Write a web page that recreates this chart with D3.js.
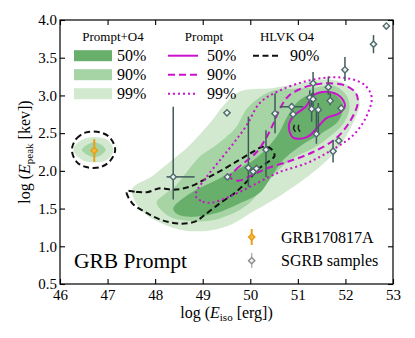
<!DOCTYPE html>
<html>
<head>
<meta charset="utf-8">
<script src="https://cdn.jsdelivr.net/npm/d3@7"></script>
<style>
    body { margin: 0; background: #fff; }
    svg { font-family: "Liberation Serif", "DejaVu Serif", serif; }
    .axis text { font-size: 15px; fill: #000; font-family: "Liberation Serif", serif; }
    .axis line { stroke: #000; stroke-width: 1.1px; }
    .axis .domain { display: none; }
    .legend-header { font-size: 13px; }
    .legend-label { font-size: 16px; }
</style>
</head>
<body>
<svg id="chart"></svg>
<script>
// Axis ticks
const xTicks = [46, 47, 48, 49, 50, 51, 52, 53];
const yTicks = [0.5, 1.0, 1.5, 2.0, 2.5, 3.0, 3.5, 4.0];

// Prompt+O4 credible regions, [log Eiso, log Epeak]
const promptO4Level99 = [[47.52, 1.76], [47.62, 1.55], [47.85, 1.4], [48.15, 1.3], [48.6, 1.21], [49.15, 1.21], [49.6, 1.29],
    [50.06, 1.46], [50.7, 1.7], [51.4, 2.02], [51.85, 2.3], [52.15, 2.62], [52.3, 2.88], [52.22, 3.04], [51.9, 3.18],
    [51.5, 3.21], [51.04, 3.16], [50.48, 3.1], [49.8, 3.06], [49.6, 2.97], [49.4, 2.84], [49.2, 2.67], [48.95, 2.49],
    [48.66, 2.3], [48.31, 2.12], [47.96, 1.94]];
const promptO4Level90 = [[48.03, 1.58], [48.2, 1.69], [48.4, 1.78], [48.66, 1.98], [48.94, 2.19], [49.3, 2.35], [49.68, 2.56],
    [49.96, 2.85], [50.45, 3.06], [50.9, 3.09], [51.39, 3.11], [51.74, 3.13], [52.0, 3.02], [52.09, 2.85],
    [51.95, 2.62], [51.6, 2.42], [51.32, 2.3], [50.83, 2.14], [50.4, 1.88], [49.92, 1.54], [49.36, 1.37],
    [48.87, 1.33], [48.31, 1.39]];
const promptO4Level50 = [[48.38, 1.5], [48.73, 1.7], [49.29, 1.88], [49.71, 2.01], [50.06, 2.14], [50.35, 2.3], [50.6, 2.5],
    [50.78, 2.72], [51.02, 2.93], [51.35, 3.03], [51.75, 3.02], [51.95, 2.88], [51.85, 2.66], [51.5, 2.5], [51.1, 2.35],
    [50.7, 2.15], [50.4, 1.88], [50.2, 1.71], [49.78, 1.57], [49.29, 1.44], [48.73, 1.39], [48.48, 1.42]];
const promptO4Speck = [[49.55, 2.45]];

// GRB170817A-like island
const islandLevel99 = [[46.28, 2.28], [46.45, 2.41], [46.72, 2.45], [47.0, 2.41], [47.12, 2.28], [47.0, 2.15], [46.72, 2.11], [46.45, 2.15]];
const islandLevel90 = [[46.46, 2.28], [46.58, 2.35], [46.72, 2.38], [46.86, 2.35], [46.96, 2.28], [46.86, 2.21], [46.72, 2.18], [46.58, 2.21]];
const islandO4Level90 = [[46.25, 2.28], [46.35, 2.43], [46.55, 2.51], [46.85, 2.51], [47.05, 2.44], [47.16, 2.28],
    [47.05, 2.13], [46.85, 2.05], [46.55, 2.05], [46.35, 2.12]];

// Prompt-only credible contours
const promptLevel50 = [[50.81, 2.6], [50.9, 2.72], [51.18, 2.86], [51.32, 3.0], [51.6, 3.05], [51.88, 2.99], [51.99, 2.86],
    [51.86, 2.76], [51.6, 2.7], [51.42, 2.58], [51.2, 2.45], [50.9, 2.44]];
const promptLevel90 = [[49.57, 1.92], [49.7, 2.02], [49.9, 2.12], [50.12, 2.24], [50.32, 2.42], [50.48, 2.62], [50.62, 2.82],
    [50.8, 2.99], [51.15, 3.11], [51.6, 3.16], [52.0, 3.13], [52.22, 3.03], [52.26, 2.9], [52.1, 2.66], [51.8, 2.43],
    [51.32, 2.25], [50.83, 2.13], [50.34, 2.03], [50.0, 1.93], [49.75, 1.87]];
const promptLevel99 = [[48.85, 1.67], [49.0, 1.59], [49.2, 1.58], [49.57, 1.66], [50.06, 1.81], [50.6, 1.98], [51.18, 2.1],
    [51.67, 2.26], [52.16, 2.47], [52.44, 2.72], [52.55, 2.98], [52.4, 3.14], [52.1, 3.22], [51.7, 3.24], [51.18, 3.19],
    [50.6, 3.06], [50.2, 2.9], [49.92, 2.6], [49.64, 2.36], [49.36, 2.14], [49.08, 1.92], [48.9, 1.76]];

// HLVK O4 90% contour
const hlvkO4Level90 = [[47.4, 1.73], [47.6, 1.72], [47.85, 1.72], [48.1, 1.77], [48.38, 1.75], [48.73, 1.79], [49.08, 1.9],
    [49.43, 2.02], [49.78, 2.15], [50.05, 2.25], [50.27, 2.32], [50.44, 2.29], [50.51, 2.2], [50.4, 2.13], [50.2, 2.04],
    [49.96, 1.88], [49.7, 1.72], [49.36, 1.57], [49.05, 1.42], [48.85, 1.33], [48.55, 1.3], [48.17, 1.34],
    [47.8, 1.45], [47.52, 1.57]];
const hlvkO4Fragments = [[[50.93, 2.61], [50.91, 2.56], [50.95, 2.52]], [[51.02, 2.61], [51.01, 2.56], [51.05, 2.52]]];

// SGRB samples
const sgrbLogEiso = [48.38, 49.51, 49.52, 49.96, 50.06, 50.13, 50.33, 50.52, 50.87, 50.9, 51.25, 51.32, 51.32, 51.29,
    51.43, 51.39, 51.64, 51.68, 51.91, 51.86, 51.74, 51.99, 52.59, 52.86];
const sgrbLogEpeak = [1.92, 2.77, 1.92, 2.04, 1.99, 2.03, 2.28, 2.76, 2.85, 2.75, 2.97, 3.16, 2.95, 2.82,
    2.81, 2.49, 3.11, 2.93, 2.83, 2.4, 2.26, 3.34, 3.68, 3.92];
const sgrbEpeakErrLow = [0.3, 0, 0, 0.25, 0.06, 0.05, 0.36, 0.26, 0.05, 0.04, 0.12, 0.18, 0.1, 0.17,
    0.3, 0.13, 0.1, 0.06, 0.03, 0.02, 0.15, 0.15, 0.12, 0];
const sgrbEpeakErrHigh = [0.93, 0, 0, 0.68, 0.05, 0.05, 0.26, 0.27, 0.05, 0.04, 0.1, 0.15, 0.1, 0.21,
    0.09, 0.31, 0.14, 0.1, 0.03, 0.02, 0.15, 0.17, 0.12, 0];
const sgrbEisoErrLow = [0.14, 0, 0, 0, 0, 0, 0, 0, 0.25, 0, 0, 0, 0, 0, 0, 0, 0, 0, 0, 0, 0, 0, 0, 0];
const sgrbEisoErrHigh = [0.45, 0, 0, 0, 0, 0, 0, 0, 0.24, 0, 0, 0, 0, 0, 0, 0, 0, 0, 0, 0, 0, 0, 0, 0];

// GRB170817A
const grb170817aLogEiso = [46.72];
const grb170817aLogEpeak = [2.27];
const grb170817aEpeakErr = [0.15];

const colors = {
    dark: '#67af6b',
    medium: '#a6d4a5',
    light: '#d2e9cf',
    magenta: '#cc11cc',
    orange: '#e89f16',
    bar: '#3f5a5c',
    marker: '#4e6a6c'
};

class GrbPromptChart {

    constructor(_config) {
        this.config = {
            parentElement: _config.parentElement,
            containerWidth: _config.containerWidth || 415,
            containerHeight: _config.containerHeight || 338,
            margin: _config.margin || {top: 20, right: 22, bottom: 54, left: 60}
        };
        this.initVis();
    }

    initVis() {
        let vis = this;

        vis.width = vis.config.containerWidth - vis.config.margin.left - vis.config.margin.right;
        vis.height = vis.config.containerHeight - vis.config.margin.top - vis.config.margin.bottom;

        vis.xScale = d3.scaleLinear().domain([46, 53]).range([0, vis.width]);
        vis.yScale = d3.scaleLinear().domain([0.5, 4.0]).range([vis.height, 0]);

        vis.svg = d3.select(vis.config.parentElement)
            .attr('width', vis.config.containerWidth)
            .attr('height', vis.config.containerHeight);

        vis.chart = vis.svg.append('g')
            .attr('transform', `translate(${vis.config.margin.left},${vis.config.margin.top})`);

        vis.svg.append('clipPath').attr('id', 'plot-clip')
            .append('rect').attr('width', vis.width).attr('height', vis.height);

        vis.closedLine = d3.line()
            .x(d => vis.xScale(d[0]))
            .y(d => vis.yScale(d[1]))
            .curve(d3.curveCatmullRomClosed.alpha(0.5));

        vis.openLine = d3.line()
            .x(d => vis.xScale(d[0]))
            .y(d => vis.yScale(d[1]))
            .curve(d3.curveCatmullRom.alpha(0.5));

        vis.renderVis();
    }

    renderVis() {
        let vis = this;
        const plot = vis.chart.append('g').attr('clip-path', 'url(#plot-clip)');

        // Green filled regions
        const fills = [
            {pts: promptO4Level99, fill: colors.light},
            {pts: promptO4Level90, fill: colors.medium},
            {pts: promptO4Level50, fill: colors.dark},
            {pts: islandLevel99, fill: colors.light},
            {pts: islandLevel90, fill: colors.medium}
        ];
        plot.selectAll('.region')
            .data(fills)
            .join('path')
            .attr('class', 'region')
            .attr('d', d => vis.closedLine(d.pts))
            .attr('fill', d => d.fill);

        plot.selectAll('.speck')
            .data(promptO4Speck)
            .join('path')
            .attr('class', 'speck')
            .attr('d', d3.symbol(d3.symbolSquare, 14))
            .attr('transform', d => `translate(${vis.xScale(d[0])},${vis.yScale(d[1])}) rotate(45)`)
            .attr('fill', colors.medium);

        // HLVK O4 dashed contours
        plot.selectAll('.o4-contour')
            .data([hlvkO4Level90, islandO4Level90])
            .join('path')
            .attr('class', 'o4-contour')
            .attr('d', d => vis.closedLine(d))
            .attr('fill', 'none')
            .attr('stroke', '#111')
            .attr('stroke-width', 2)
            .attr('stroke-dasharray', '6,3.5');

        plot.selectAll('.o4-fragment')
            .data(hlvkO4Fragments)
            .join('path')
            .attr('class', 'o4-fragment')
            .attr('d', d => vis.openLine(d))
            .attr('fill', 'none')
            .attr('stroke', '#222')
            .attr('stroke-width', 1.5);

        // Prompt contours
        const promptContours = [
            {pts: promptLevel50, dash: null},
            {pts: promptLevel90, dash: '7,4'},
            {pts: promptLevel99, dash: '2,3'}
        ];
        plot.selectAll('.prompt-contour')
            .data(promptContours)
            .join('path')
            .attr('class', 'prompt-contour')
            .attr('d', d => vis.closedLine(d.pts))
            .attr('fill', 'none')
            .attr('stroke', colors.magenta)
            .attr('stroke-width', 2)
            .attr('stroke-dasharray', d => d.dash);

        // SGRB samples with error bars
        const sgrb = sgrbLogEiso.map((x, i) => ({
            x: x, y: sgrbLogEpeak[i],
            yLo: sgrbEpeakErrLow[i], yHi: sgrbEpeakErrHigh[i],
            xLo: sgrbEisoErrLow[i], xHi: sgrbEisoErrHigh[i]
        }));

        const bars = plot.append('g');
        bars.selectAll('.ybar')
            .data(sgrb.filter(d => d.yLo + d.yHi > 0))
            .join('line')
            .attr('class', 'ybar')
            .attr('x1', d => vis.xScale(d.x)).attr('x2', d => vis.xScale(d.x))
            .attr('y1', d => vis.yScale(d.y - d.yLo)).attr('y2', d => vis.yScale(d.y + d.yHi))
            .attr('stroke', colors.bar).attr('stroke-width', 1.5);
        bars.selectAll('.xbar')
            .data(sgrb.filter(d => d.xLo + d.xHi > 0))
            .join('line')
            .attr('class', 'xbar')
            .attr('x1', d => vis.xScale(d.x - d.xLo)).attr('x2', d => vis.xScale(d.x + d.xHi))
            .attr('y1', d => vis.yScale(d.y)).attr('y2', d => vis.yScale(d.y))
            .attr('stroke', colors.bar).attr('stroke-width', 1.5);

        plot.selectAll('.sgrb')
            .data(sgrb)
            .join('path')
            .attr('class', 'sgrb')
            .attr('d', d3.symbol(d3.symbolSquare, 20))
            .attr('transform', d => `translate(${vis.xScale(d.x)},${vis.yScale(d.y)}) rotate(45)`)
            .attr('fill', '#eef3f3')
            .attr('stroke', colors.marker)
            .attr('stroke-width', 1.4);

        // GRB170817A
        const grb = grb170817aLogEiso.map((x, i) => ({x: x, y: grb170817aLogEpeak[i], err: grb170817aEpeakErr[i]}));
        plot.selectAll('.grb-bar')
            .data(grb)
            .join('line')
            .attr('class', 'grb-bar')
            .attr('x1', d => vis.xScale(d.x)).attr('x2', d => vis.xScale(d.x))
            .attr('y1', d => vis.yScale(d.y - d.err)).attr('y2', d => vis.yScale(d.y + d.err))
            .attr('stroke', colors.orange).attr('stroke-width', 2);
        plot.selectAll('.grb')
            .data(grb)
            .join('path')
            .attr('class', 'grb')
            .attr('d', d3.symbol(d3.symbolSquare, 20))
            .attr('transform', d => `translate(${vis.xScale(d.x)},${vis.yScale(d.y)}) rotate(45)`)
            .attr('fill', '#f6b640')
            .attr('stroke', colors.orange)
            .attr('stroke-width', 1.4);

        vis.renderAxes();
        vis.renderLegend();
    }

    renderAxes() {
        let vis = this;

        vis.chart.append('g').attr('class', 'axis')
            .attr('transform', `translate(0,${vis.height})`)
            .call(d3.axisBottom(vis.xScale).tickValues(xTicks).tickFormat(d3.format('d'))
                .tickSizeInner(-5).tickSizeOuter(0).tickPadding(5));
        vis.chart.append('g').attr('class', 'axis')
            .call(d3.axisLeft(vis.yScale).tickValues(yTicks).tickFormat(d3.format('.1f'))
                .tickSizeInner(-5).tickSizeOuter(0).tickPadding(3));
        vis.chart.append('g').attr('class', 'axis')
            .call(d3.axisTop(vis.xScale).tickValues(xTicks).tickFormat('')
                .tickSizeInner(-5).tickSizeOuter(0));
        vis.chart.append('g').attr('class', 'axis')
            .attr('transform', `translate(${vis.width},0)`)
            .call(d3.axisRight(vis.yScale).tickValues(yTicks).tickFormat('')
                .tickSizeInner(-5).tickSizeOuter(0));

        vis.chart.append('rect')
            .attr('width', vis.width).attr('height', vis.height)
            .attr('fill', 'none').attr('stroke', '#000').attr('stroke-width', 1.2);

        // Axis titles
        const xTitle = vis.svg.append('text')
            .attr('x', vis.config.margin.left + vis.width / 2)
            .attr('y', 318)
            .attr('text-anchor', 'middle')
            .attr('font-size', 16);
        xTitle.append('tspan').text('log (');
        xTitle.append('tspan').attr('font-style', 'italic').text('E');
        xTitle.append('tspan').attr('font-size', 11).attr('dy', 3).text('iso');
        xTitle.append('tspan').attr('dy', -3).text(' [erg])');

        const yTitle = vis.svg.append('text')
            .attr('transform', `translate(30,${vis.config.margin.top + vis.height / 2}) rotate(-90)`)
            .attr('text-anchor', 'middle')
            .attr('font-size', 16);
        yTitle.append('tspan').text('log (');
        yTitle.append('tspan').attr('font-style', 'italic').text('E');
        yTitle.append('tspan').attr('font-size', 11).attr('dy', 3).text('peak');
        yTitle.append('tspan').attr('dy', -3).text(' [kev])');
    }

    renderLegend() {
        let vis = this;
        const lg = vis.svg.append('g');
        const rowY = [55.7, 74.7, 93.7];
        const labels = ['50%', '90%', '99%'];

        [['Prompt+O4', 113], ['Prompt', 204], ['HLVK O4', 287]].forEach(h => {
            lg.append('text').attr('class', 'legend-header')
                .attr('x', h[1]).attr('y', 41).attr('text-anchor', 'middle').text(h[0]);
        });

        // Prompt+O4 patches
        [colors.dark, colors.medium, colors.light].forEach((c, i) => {
            lg.append('rect').attr('x', 74).attr('y', rowY[i] - 5.5)
                .attr('width', 38).attr('height', 11).attr('fill', c);
            lg.append('text').attr('class', 'legend-label')
                .attr('x', 117).attr('y', rowY[i] + 5.3).text(labels[i]);
        });

        // Prompt lines
        [null, '7,4', '2,3'].forEach((dash, i) => {
            lg.append('line').attr('x1', 168).attr('x2', 198).attr('y1', rowY[i]).attr('y2', rowY[i])
                .attr('stroke', colors.magenta).attr('stroke-width', 2).attr('stroke-dasharray', dash);
            lg.append('text').attr('class', 'legend-label')
                .attr('x', 207).attr('y', rowY[i] + 5.3).text(labels[i]);
        });

        // HLVK O4
        lg.append('line').attr('x1', 253).attr('x2', 281).attr('y1', rowY[0]).attr('y2', rowY[0])
            .attr('stroke', '#111').attr('stroke-width', 2).attr('stroke-dasharray', '6,3.5');
        lg.append('text').attr('class', 'legend-label')
            .attr('x', 290).attr('y', rowY[0] + 5.3).text('90%');

        // Marker legend
        lg.append('line').attr('x1', 251.7).attr('x2', 251.7).attr('y1', 229).attr('y2', 245)
            .attr('stroke', colors.orange).attr('stroke-width', 2);
        lg.append('path').attr('d', d3.symbol(d3.symbolSquare, 20))
            .attr('transform', 'translate(251.7,237) rotate(45)')
            .attr('fill', '#f6b640').attr('stroke', colors.orange).attr('stroke-width', 1.4);
        lg.append('text').attr('class', 'legend-label').attr('x', 281).attr('y', 243).text('GRB170817A');

        lg.append('line').attr('x1', 251.7).attr('x2', 251.7).attr('y1', 253).attr('y2', 268)
            .attr('stroke', '#b5b5b5').attr('stroke-width', 1.5);
        lg.append('path').attr('d', d3.symbol(d3.symbolSquare, 20))
            .attr('transform', 'translate(251.7,260.7) rotate(45)')
            .attr('fill', '#f2f2f2').attr('stroke', '#8c8c8c').attr('stroke-width', 1.4);
        lg.append('text').attr('class', 'legend-label').attr('x', 281).attr('y', 266).text('SGRB samples');

        lg.append('text').attr('x', 74).attr('y', 268).attr('font-size', 21.5).text('GRB Prompt');
    }
}

const chart = new GrbPromptChart({parentElement: '#chart'});
</script>
</body>
</html>
